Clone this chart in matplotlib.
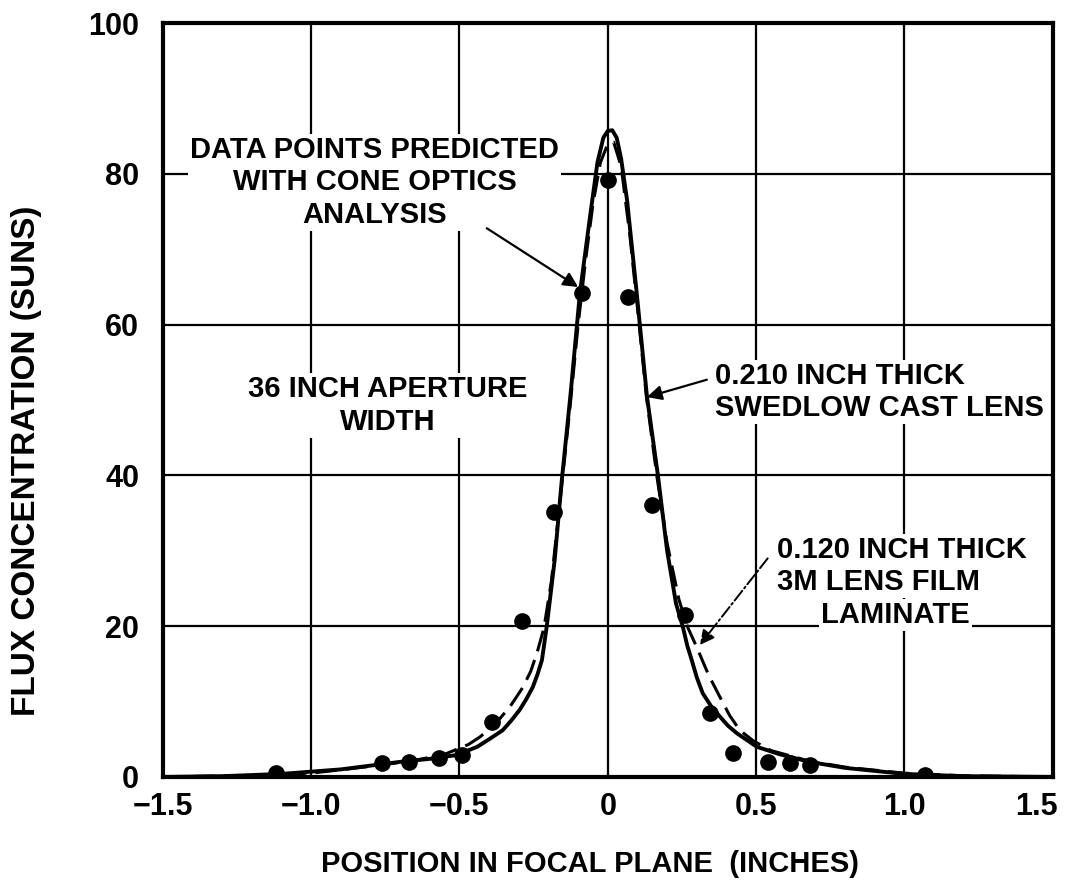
import matplotlib
matplotlib.use("Agg")
import matplotlib.pyplot as plt
import matplotlib.transforms as mtransforms
from matplotlib.ticker import FixedLocator, FixedFormatter

# ---- data ----
x_ticks = [-1.5, -1.0, -0.5, 0.0, 0.5, 1.0, 1.5]
x_tick_labels = ["\u22121.5", "\u22121.0", "\u22120.5", "0", "0.5", "1.0", "1.5"]
y_ticks = [0, 20, 40, 60, 80, 100]
y_tick_labels = ["0", "20", "40", "60", "80", "100"]

# 0.210 inch thick Swedlow cast lens (solid)
solid_x = [-1.50, -1.30, -1.10, -1.00, -0.90, -0.80, -0.70, -0.60, -0.51, -0.44, -0.40,
           -0.354, -0.325, -0.297, -0.275, -0.253, -0.237, -0.222, -0.206, -0.179, -0.155,
           -0.125, -0.094, -0.06, -0.035, -0.015, 0.0, 0.015, 0.03, 0.045, 0.065, 0.098,
           0.132, 0.169, 0.20, 0.23, 0.253, 0.268, 0.283, 0.30, 0.32, 0.348, 0.378, 0.405,
           0.435, 0.502, 0.58, 0.68, 0.80, 1.00, 1.20, 1.50]
solid_y = [0.0, 0.1, 0.4, 0.7, 1.0, 1.5, 2.0, 2.4, 2.9, 4.0, 5.0,
           6.2, 7.5, 8.9, 10.3, 11.9, 13.6, 15.5, 19.9, 28.8, 39.4,
           51.0, 64.2, 74.3, 81.5, 84.8, 85.7, 85.8, 84.8, 82.0, 76.5, 64.0,
           50.5, 40.0, 30.0, 23.0, 19.9, 17.4, 15.5, 13.2, 11.1, 9.4, 8.0, 6.8,
           5.8, 4.0, 3.0, 2.0, 1.2, 0.4, 0.1, 0.0]

# 0.120 inch thick 3M lens film laminate (dashed)
dashed_x = [-1.50, -1.20, -1.00, -0.80, -0.65, -0.55, -0.47, -0.431, -0.38, -0.33, -0.286,
            -0.26, -0.239, -0.215, -0.19, -0.16, -0.13, -0.10, -0.075, -0.05, -0.025, 0.0,
            0.02, 0.045, 0.074, 0.098, 0.13, 0.165, 0.20, 0.24, 0.27, 0.30, 0.34, 0.378,
            0.41, 0.445, 0.49, 0.55, 0.68, 0.80, 1.00, 1.20, 1.50]
dashed_y = [0.0, 0.2, 0.5, 1.4, 2.2, 3.0, 4.3, 5.3, 7.0, 9.3, 11.9,
            14.0, 16.4, 19.8, 26.0, 37.0, 48.0, 60.0, 68.5, 76.0, 81.5, 84.0,
            84.2, 81.0, 72.0, 63.0, 50.5, 40.0, 31.0, 23.5, 19.8, 17.2, 13.5, 10.6,
            8.2, 6.2, 4.8, 3.5, 2.1, 1.3, 0.5, 0.15, 0.0]

# data points predicted with cone optics analysis
pts_x = [-1.12, -0.76, -0.67, -0.57, -0.49, -0.39, -0.29, -0.18, -0.088, 0.0,
         0.068, 0.148, 0.26, 0.344, 0.422, 0.539, 0.614, 0.681, 1.07]
pts_y = [0.5, 1.9, 2.0, 2.5, 2.9, 7.3, 20.7, 35.1, 64.2, 79.2,
         63.7, 36.1, 21.5, 8.5, 3.2, 2.0, 1.9, 1.6, 0.3]

FONT = ["Liberation Sans Narrow", "DejaVu Sans Condensed", "Liberation Sans", "DejaVu Sans"]
plt.rcParams["font.family"] = FONT
plt.rcParams["font.weight"] = "bold"

fig = plt.figure(figsize=(10.71, 8.92), dpi=100)
ax = fig.add_axes([0.152, 0.129, 0.831, 0.845])
ax.set_xlim(-1.5, 1.5)
ax.set_ylim(0, 100)

ax.xaxis.set_major_locator(FixedLocator(x_ticks))
ax.xaxis.set_major_formatter(FixedFormatter(x_tick_labels))
ax.yaxis.set_major_locator(FixedLocator(y_ticks))
ax.yaxis.set_major_formatter(FixedFormatter(y_tick_labels))
ax.tick_params(axis="both", length=0, labelsize=22)
ax.tick_params(axis="x", pad=11)
ax.tick_params(axis="y", pad=17)

ax.set_axisbelow(True)
ax.grid(True, color="black", linewidth=1.6)
for s in ax.spines.values():
    s.set_linewidth(3)

ax.plot(solid_x, solid_y, color="black", linewidth=2.8, solid_joinstyle="round", zorder=4)
ax.plot(dashed_x, dashed_y, color="black", linewidth=2.2, dashes=(7, 3), zorder=4)
ax.plot(pts_x, pts_y, "o", color="black", markersize=11, zorder=5)

ax.set_xlabel("POSITION IN FOCAL PLANE  (INCHES)", fontsize=21, fontweight="bold")
ax.set_ylabel("FLUX CONCENTRATION (SUNS)", fontsize=24, fontweight="bold")
ax.xaxis.set_label_coords(0.48, -0.097)
ax.yaxis.set_label_coords(-0.136, 0.42)

box = dict(facecolor="white", edgecolor="none", pad=1.5)
tkw = dict(fontsize=21, fontweight="bold", zorder=3, bbox=box, linespacing=1.2)

ax.text(-0.785, 78.9, "DATA POINTS PREDICTED\nWITH CONE OPTICS\nANALYSIS",
        ha="center", va="center", multialignment="center", **tkw)
ax.text(-0.742, 49.3, "36 INCH APERTURE\nWIDTH",
        ha="center", va="center", multialignment="center", **tkw)
ax.text(0.361, 51.1, "0.210 INCH THICK\nSWEDLOW CAST LENS",
        ha="left", va="center", multialignment="left", **tkw)
ax.text(0.570, 28.0, "0.120 INCH THICK\n3M LENS FILM",
        ha="left", va="center", multialignment="left", **tkw)
ax.text(0.971, 21.5, "LAMINATE", ha="center", va="center", **tkw)

ax.annotate("", xy=(-0.10, 65.0), xytext=(-0.408, 72.8),
            arrowprops=dict(arrowstyle="-|>", color="black", lw=1.6, mutation_scale=22,
                            shrinkA=0, shrinkB=0), zorder=6)
ax.annotate("", xy=(0.132, 50.4), xytext=(0.334, 52.7),
            arrowprops=dict(arrowstyle="-|>", color="black", lw=1.6, mutation_scale=22,
                            shrinkA=0, shrinkB=0), zorder=6)
ax.annotate("", xy=(0.310, 17.5), xytext=(0.539, 29.0),
            arrowprops=dict(arrowstyle="-|>", color="black", lw=1.4, mutation_scale=22,
                            linestyle="dashdot", shrinkA=0, shrinkB=0), zorder=6)

fig.canvas.draw()
xlabels = ax.get_xticklabels()
for lab in xlabels + ax.get_yticklabels():
    lab.set_fontweight("bold")
# the last x tick label sits a little left of the right border, as in the reference
shift = mtransforms.ScaledTranslation(-12 / 72, 0, fig.dpi_scale_trans)
xlabels[-1].set_transform(xlabels[-1].get_transform() + shift)

fig.savefig("out.png", dpi=100, facecolor="white")
